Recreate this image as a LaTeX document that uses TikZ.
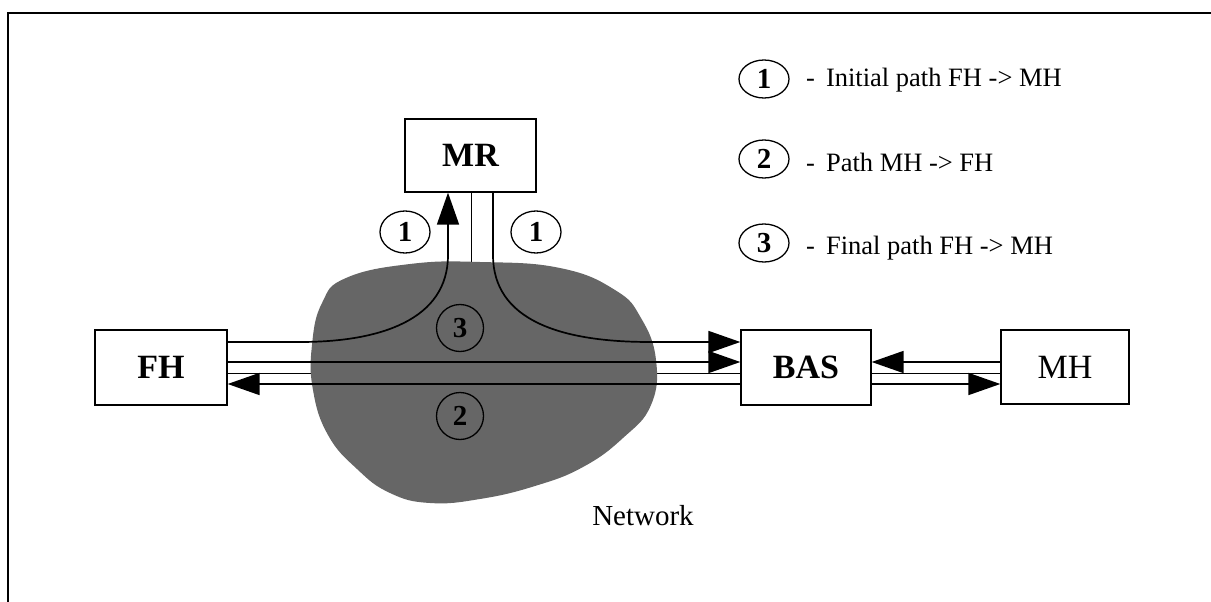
\documentclass[tikz,border=0pt]{standalone}
\usepackage{fontspec}
\setmainfont{Liberation Serif}
\usetikzlibrary{arrows.meta,calc,shapes.geometric}
\begin{document}
\begin{tikzpicture}[x=1pt,y=-1pt,
  box/.style={draw,line width=1.3pt,inner sep=0pt,fill=white,font=\fontsize{34}{40}\selectfont\bfseries},
  pipe/.style={line width=1.7pt},
  thinln/.style={line width=1pt},
  tri/.style={-{Triangle[length=32pt,width=22pt]}},
  numc/.style={draw,line width=1.3pt,shape=ellipse,inner sep=0pt,minimum width=50pt,minimum height=42pt,font=\fontsize{29}{32}\selectfont\bfseries},
  numr/.style={draw,line width=1.3pt,shape=circle,inner sep=0pt,minimum size=47pt,font=\fontsize{29}{32}\selectfont\bfseries},
  legtxt/.style={anchor=base west,inner sep=0pt,font=\fontsize{26.5}{30}\selectfont}]
\useasboundingbox (0,0) rectangle (1211,602);
% frame
\draw[line width=1.8pt] (8,602) -- (8,13) -- (1211,13);
% boxes
\node[box,minimum width=132pt,minimum height=75pt] (FH) at (161,367.5) {FH};
\node[box,minimum width=130pt,minimum height=75pt] (BAS) at (806,367.5) {BAS};
\node[box,minimum width=128pt,minimum height=74pt,font=\fontsize{34}{40}\selectfont] (MH) at (1065,367) {MH};
\node[box,minimum width=131pt,minimum height=73pt] (MR) at (470.5,155.5) {MR};
% row / column reference coordinates
\coordinate (r1) at (0,342);
\coordinate (r2) at (0,362);
\coordinate (r3) at (0,373);
\coordinate (r4) at (0,384);
\coordinate (c1) at (448,0);
\coordinate (c2) at (471,0);
\coordinate (c3) at (493,0);
\coordinate (nettop) at (471,266);
% thin lines (under the network)
\draw[thinln] (FH.east |- r3) -- (BAS.west |- r3);
\draw[thinln] (BAS.east |- r3) -- (MH.west |- r3);
\draw[thinln] (MR.south -| c2) -- (nettop);
% network cloud
\fill[black!60] plot[smooth cycle,tension=0.75] coordinates {
 (480,262) (560,268) (615,290) (641,318) (656,360) (651,405) (623,438)
 (583,467) (535,486) (480,499) (430,503) (390,493) (357,469) (328,435)
 (313,390) (312,345) (322,303) (346,278) (410,264)};
\node[font=\fontsize{29}{32}\selectfont] (net) at (643,516) {Network};
% numbered circles in the network
\node[numr] (n3) at (460,328) {3};
\node[numr] (n2) at (460,416) {2};
% path 1
\draw[pipe,tri] (FH.east |- r1) -- (300,342) .. controls (380,342) and (448,320) .. (448,255) -- (MR.south -| c1);
\draw[pipe,tri] (MR.south -| c3) -- (493,255) .. controls (493,320) and (560,342) .. (650,342) -- (BAS.west |- r1);
\node[numc] (m1a) at (405,232) {1};
\node[numc] (m1b) at (536,232) {1};
% path 3
\draw[pipe,tri] (FH.east |- r2) -- (BAS.west |- r2);
\draw[pipe,tri] (BAS.east |- r4) -- (MH.west |- r4);
% path 2
\draw[pipe,tri] (MH.west |- r2) -- (BAS.east |- r2);
\draw[pipe,tri] (BAS.west |- r4) -- (FH.east |- r4);
% legend
\node[numc,minimum height=38pt] (l1) at (764,79) {1};
\node[numc,minimum height=38pt] (l2) at (764,159) {2};
\node[numc,minimum height=38pt] (l3) at (764,243) {3};
\node[legtxt] (t1) at (806,87) {-\hspace{11pt}Initial path FH -> MH};
\node[legtxt] (t2) at (806,171) {-\hspace{11pt}Path MH -> FH};
\node[legtxt] (t3) at (806,254) {-\hspace{11pt}Final path FH -> MH};
\end{tikzpicture}
\end{document}
